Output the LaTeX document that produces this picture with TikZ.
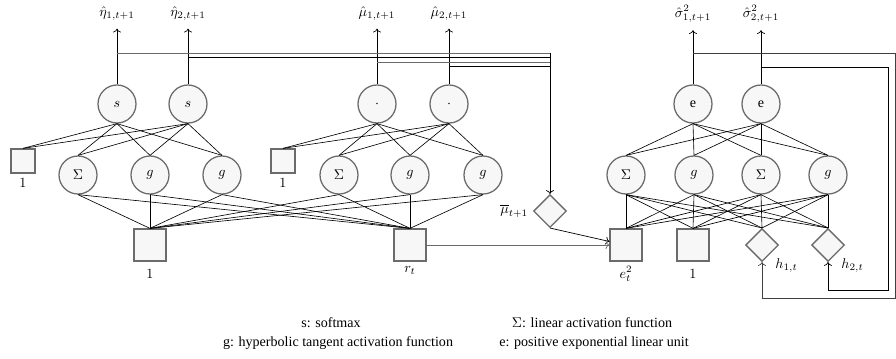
\documentclass[tikz,border=0pt]{standalone}
\usepackage{amsmath}
\usepackage{amssymb}
\usepackage{fontspec}
\setmainfont{Liberation Serif}
\usetikzlibrary{arrows.meta, shapes.geometric, positioning, calc}

\definecolor{unitline}{HTML}{6B6B6B}
\definecolor{unitfill}{HTML}{F7F7F7}
\tikzset{
  neuron/.style={circle, draw=unitline, fill=unitfill, line width=0.9pt, minimum size=0.95cm, inner sep=0pt},
  bigbox/.style={rectangle, draw=unitline, fill=unitfill, line width=0.9pt, minimum size=0.8cm, inner sep=0pt},
  biasbox/.style={rectangle, draw=unitline, fill=unitfill, line width=0.9pt, minimum size=0.6cm, inner sep=0pt},
  gate/.style={diamond, draw=unitline, fill=unitfill, line width=0.9pt, minimum size=0.82cm, inner sep=0pt},
  wire/.style={black, line width=0.45pt},
  feed/.style={->, line width=0.5pt},
}

\begin{document}
\begin{tikzpicture}[x=0.025cm, y=-0.025cm]
        \useasboundingbox (0,0) rectangle (896,358);
        % eta network
        \node[neuron] (s1) at (117,104) {$s$};
        \node[neuron] (s2) at (188,104) {$s$};
        \node[biasbox, label=below:$1$] (b1) at (23,161) {};
        \node[neuron] (sa1) at (78,175) {$\Sigma$};
        \node[neuron] (ga1) at (150,175) {$g$};
        \node[neuron] (gb1) at (222,175) {$g$};
        % mu network
        \node[neuron] (m1) at (377,104) {$\cdot$};
        \node[neuron] (m2) at (449,104) {$\cdot$};
        \node[biasbox, label=below:$1$] (b2) at (283,161) {};
        \node[neuron] (sa2) at (339,175) {$\Sigma$};
        \node[neuron] (ga2) at (410,175) {$g$};
        \node[neuron] (gb2) at (483,175) {$g$};
        % shared inputs
        \node[bigbox, label={[label distance=2pt]below:$1$}] (one) at (150,245) {};
        \node[bigbox, label=below:$r_t$] (rt) at (410,245) {};
        \node[gate, label=left:$\overline{\mu}_{t+1}$] (mubar) at (550,211) {};
        % sigma network
        \node[neuron] (e1) at (693,104) {e};
        \node[neuron] (e2) at (761,104) {e};
        \node[neuron] (sa3) at (626,175) {$\Sigma$};
        \node[neuron] (ga3) at (694,175) {$g$};
        \node[neuron] (sb3) at (761,175) {$\Sigma$};
        \node[neuron] (gb3) at (828,175) {$g$};
        \node[bigbox, label=below:$e_t^2$] (esq) at (626,245) {};
        \node[bigbox, label={[label distance=2pt]below:$1$}] (one3) at (693,245) {};
        \node[gate, label=below right:$h_{1,t}$] (h1) at (762,245) {};
        \node[gate, label=below right:$h_{2,t}$] (h2) at (828,245) {};
        % outputs
        \node (eta1) at (117,14) {$\hat{\eta}_{1,t+1}$};
        \node (eta2) at (188,14) {$\hat{\eta}_{2,t+1}$};
        \node (mu1) at (377,14) {$\hat{\mu}_{1,t+1}$};
        \node (mu2) at (449,14) {$\hat{\mu}_{2,t+1}$};
        \node (sig1) at (693,14) {$\hat{\sigma}^2_{1,t+1}$};
        \node (sig2) at (761,14) {$\hat{\sigma}^2_{2,t+1}$};
        % legend
        \node (leg1) at (331,323) {s: softmax};
        \node (leg2) at (592,323) {$\Sigma$: linear activation function};
        \node (leg3) at (338,343) {g: hyperbolic tangent activation function};
        \node (leg4) at (594,343) {e: positive exponential linear unit};

        \foreach \h in {sa1,ga1,gb1,sa2,ga2,gb2}
          \foreach \i in {one,rt}
            \draw[wire] (\h.south) -- (\i.north);
        \foreach \h in {b1,sa1,ga1,gb1}
          \foreach \o in {s1,s2}
            \draw[wire] (\h.north) -- (\o.south);
        \foreach \h in {b2,sa2,ga2,gb2}
          \foreach \o in {m1,m2}
            \draw[wire] (\h.north) -- (\o.south);
        \foreach \h in {sa3,ga3,sb3,gb3} {
          \foreach \i in {esq,one3,h1,h2}
            \draw[wire] (\h.south) -- (\i.north);
          \foreach \o in {e1,e2}
            \draw[wire] (\h.north) -- (\o.south);
        }

        \path[feed, shorten >=2pt]
          (s1) edge (eta1)
          (s2) edge (eta2)
          (m1) edge (mu1)
          (m2) edge (mu2)
          (e1) edge (sig1)
          (e2) edge (sig2);

        % feedback into mubar
        \coordinate (k1) at (550,53);
        \coordinate (k2) at (550,57);
        \coordinate (k3) at (550,62);
        \coordinate (k4) at (550,66);
        \draw[wire, unitline] (s1.north |- k1) -- (k1);
        \draw[wire] (s2.north |- k2) -- (k2);
        \draw[wire, unitline] (m1.north |- k3) -- (k3);
        \draw[wire] (m2.north |- k4) -- (k4);
        \draw[feed] (k1) -- (mubar.north);
        \draw[feed] (mubar.south) -- (esq.168);
        \draw[feed, unitline] (rt.east) -- (esq.west);

        % feedback into h
        \coordinate (c1) at (895,53);
        \coordinate (c1b) at (895,298);
        \coordinate (c2) at (888,67);
        \coordinate (c2b) at (888,290);
        \draw[feed, black!75] (e1.north |- c1) -- (c1) -- (c1b) -| (h1.south);
        \draw[feed] (e2.north |- c2) -- (c2) -- (c2b) -| (h2.south);
\end{tikzpicture}
\end{document}
